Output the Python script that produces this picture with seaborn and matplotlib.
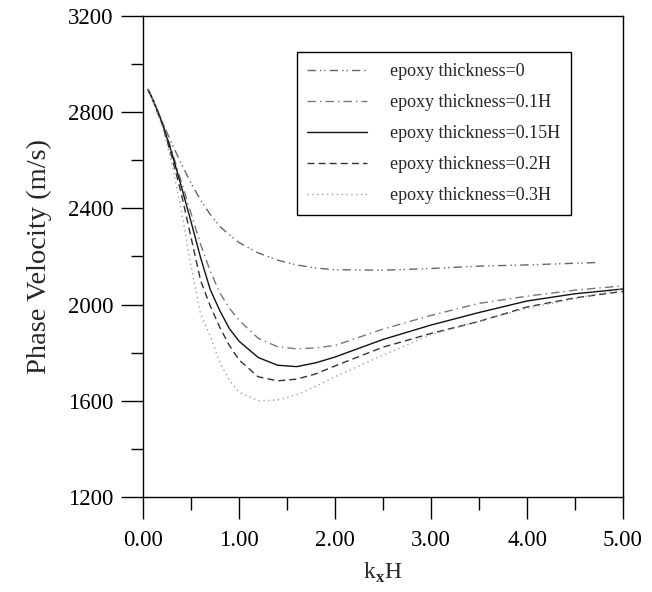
import numpy as np
import pandas as pd
import matplotlib
matplotlib.use("Agg")
import matplotlib.pyplot as plt
import seaborn as sns
from matplotlib.ticker import MultipleLocator, FormatStrFormatter

# ---- data ----
x_t0 = [0.05, 0.1, 0.2, 0.3, 0.4, 0.5, 0.6, 0.7, 0.8, 0.9, 1.0, 1.2, 1.4, 1.6, 1.8, 2.0, 2.5, 3.0, 3.5, 4.0, 4.5, 4.75]
v_t0 = [2895, 2860, 2760, 2670, 2585, 2505, 2435, 2375, 2325, 2290, 2258, 2215, 2185, 2165, 2152, 2145, 2143, 2150, 2160, 2165, 2172, 2175]

x_common = [0.05, 0.1, 0.2, 0.3, 0.4, 0.5, 0.6, 0.7, 0.8, 0.9, 1.0, 1.2, 1.4, 1.6, 1.8, 2.0, 2.5, 3.0, 3.5, 4.0, 4.5, 5.0]
v_t01 = [2895, 2855, 2760, 2640, 2510, 2380, 2250, 2140, 2049, 1985, 1935, 1860, 1825, 1816, 1820, 1830, 1898, 1955, 2005, 2035, 2060, 2078]
v_t015 = [2895, 2855, 2755, 2630, 2490, 2345, 2195, 2063, 1975, 1900, 1848, 1780, 1748, 1742, 1758, 1782, 1855, 1915, 1967, 2015, 2045, 2065]
v_t02 = [2895, 2852, 2750, 2615, 2460, 2280, 2100, 1995, 1905, 1830, 1770, 1700, 1683, 1690, 1712, 1745, 1823, 1880, 1930, 1990, 2028, 2055]
v_t03 = [2895, 2850, 2740, 2590, 2390, 2160, 1960, 1870, 1760, 1685, 1636, 1600, 1603, 1625, 1660, 1700, 1790, 1875, 1930, 1985, 2025, 2065]

labels = ["epoxy thickness=0", "epoxy thickness=0.1H", "epoxy thickness=0.15H",
          "epoxy thickness=0.2H", "epoxy thickness=0.3H"]
x_ticks = [0, 1, 2, 3, 4, 5]
y_ticks = [1200, 1600, 2000, 2400, 2800, 3200]

sns.set_theme(style="ticks")
plt.rcParams["font.family"] = ["Liberation Serif", "DejaVu Serif"]
plt.rcParams["mathtext.fontset"] = "custom"
plt.rcParams["mathtext.rm"] = "Liberation Serif"
plt.rcParams["mathtext.bf"] = "Liberation Serif:bold"

fig = plt.figure(figsize=(6.52, 5.92), dpi=100)
ax = fig.add_axes([143/652, 1-497/592, 480/652, 481/592])

series = [
    (x_t0, v_t0, labels[0], "#666666", (0, (6, 3, 1, 2, 1, 3))),
    (x_common, v_t01, labels[1], "#777777", (0, (6, 3, 1, 3))),
    (x_common, v_t015, labels[2], "#111111", "-"),
    (x_common, v_t02, labels[3], "#333333", (0, (5, 3))),
    (x_common, v_t03, labels[4], "#a0a0a0", (0, (1, 2.5))),
]
for xs, vs, lab, col, ls in series:
    df = pd.DataFrame({"x": xs, "v": vs})
    sns.lineplot(data=df, x="x", y="v", ax=ax, color=col, linewidth=1.0,
                 label=lab, estimator=None, sort=False)
    ax.lines[-1].set_linestyle(ls)

ax.set_xlim(0, 5)
ax.set_ylim(1200, 3200)
ax.set_xticks(x_ticks)
ax.set_yticks(y_ticks)
ax.xaxis.set_minor_locator(MultipleLocator(0.5))
ax.yaxis.set_minor_locator(MultipleLocator(200))
ax.xaxis.set_major_formatter(FormatStrFormatter("%.2f"))
ax.tick_params(axis="both", which="major", direction="out", length=16, width=1.0,
               labelsize=16.5, color="black", labelcolor="black")
ax.tick_params(axis="both", which="minor", direction="out", length=9, width=1.0, color="black")
ax.tick_params(axis="x", which="major", pad=8)
ax.tick_params(axis="y", which="major", pad=5)
for s in ax.spines.values():
    s.set_visible(True)
    s.set_color("black")
    s.set_linewidth(1.0)

ax.set_xlabel(r"k$_\mathbf{x}$H", fontsize=17, labelpad=7)
ax.set_ylabel("Phase Velocity (m/s)", fontsize=20.5, labelpad=12)

leg = ax.legend(loc="upper left", bbox_to_anchor=(0.32, 0.925), fontsize=13,
                frameon=True, fancybox=False, framealpha=1, edgecolor="black",
                handlelength=3.3, handletextpad=1.3, labelspacing=0.78,
                borderpad=0.6, borderaxespad=0)
leg.get_frame().set_linewidth(1.0)

fig.savefig("out.png", dpi=100)
